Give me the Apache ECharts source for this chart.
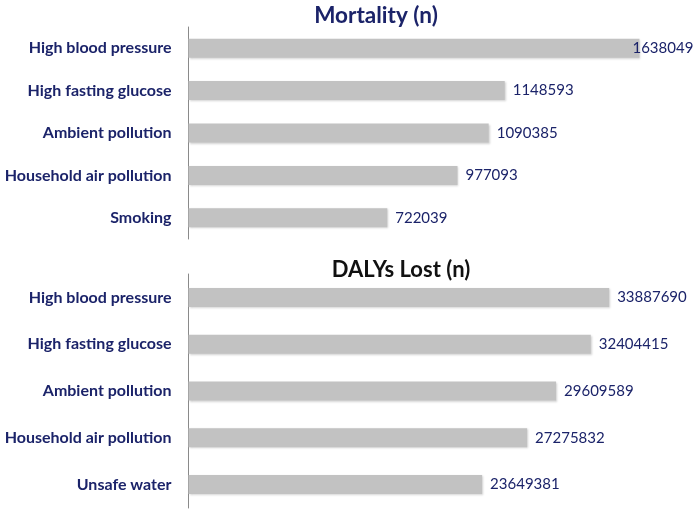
<!DOCTYPE html>
<html>
<head>
<meta charset="utf-8">
<script src="https://cdn.jsdelivr.net/npm/echarts@6/dist/echarts.min.js"></script>
<style>html,body{margin:0;padding:0;background:#fff;}#c{width:694px;height:510px;}</style>
</head>
<body>
<div id="c"></div>
<script>
var mortCats = ['High blood pressure', 'High fasting glucose', 'Ambient pollution', 'Household air pollution', 'Smoking'];
var mortVals = [1638049, 1148593, 1090385, 977093, 722039];
var dalyCats = ['High blood pressure', 'High fasting glucose', 'Ambient pollution', 'Household air pollution', 'Unsafe water'];
var dalyVals = [33887690, 32404415, 29609589, 27275832, 23649381];
var titles = ['Mortality (n)', 'DALYs Lost (n)'];

var navy = '#1b2369';
var font = 'Lato';
var chart = echarts.init(document.getElementById('c'), null, {renderer: 'canvas'});

function yAx(gi, cats) {
  return {
    type: 'category', gridIndex: gi, data: cats, inverse: true,
    axisLine: {show: true, lineStyle: {color: '#8a8a8a', width: 1}},
    axisTick: {show: false},
    axisLabel: {color: navy, fontWeight: 'bold', fontSize: 16, fontFamily: font, margin: 17}
  };
}
function xAx(gi, max) {
  return {
    type: 'value', gridIndex: gi, min: 0, max: max,
    axisLine: {show: false}, axisTick: {show: false}, axisLabel: {show: false},
    splitLine: {show: false}
  };
}
function barSeries(gi, vals, firstOffset) {
  return {
    type: 'bar', xAxisIndex: gi, yAxisIndex: gi,
    barWidth: 19,
    data: vals.map(function (v, i) {
      return (i === 0 && firstOffset) ? {value: v, label: {offset: [firstOffset, 0]}} : v;
    }),
    itemStyle: {color: '#c2c2c2', shadowColor: 'rgba(0,0,0,0.18)', shadowBlur: 2, shadowOffsetY: 1, shadowOffsetX: 1},
    label: {show: true, position: 'right', distance: 8, color: navy, fontSize: 15, fontFamily: font},
    silent: true
  };
}

chart.setOption({
  animation: false,
  backgroundColor: '#fff',
  title: [
    {text: titles[0], left: 371, top: -1, textAlign: 'center',
     textStyle: {color: navy, fontSize: 22.5, fontWeight: 'bold', fontFamily: font}},
    {text: titles[1], left: 396, top: 254, textAlign: 'center',
     textStyle: {color: '#111', fontSize: 22, fontWeight: 'bold', fontFamily: font}}
  ],
  grid: [
    {left: 188.5, top: 27, width: 468, height: 212},
    {left: 188.5, top: 274, width: 468, height: 234}
  ],
  xAxis: [xAx(0, 1700000), xAx(1, 37700000)],
  yAxis: [yAx(0, mortCats), yAx(1, dalyCats)],
  series: [barSeries(0, mortVals, -15), barSeries(1, dalyVals, 0)]
});
</script>
</body>
</html>
